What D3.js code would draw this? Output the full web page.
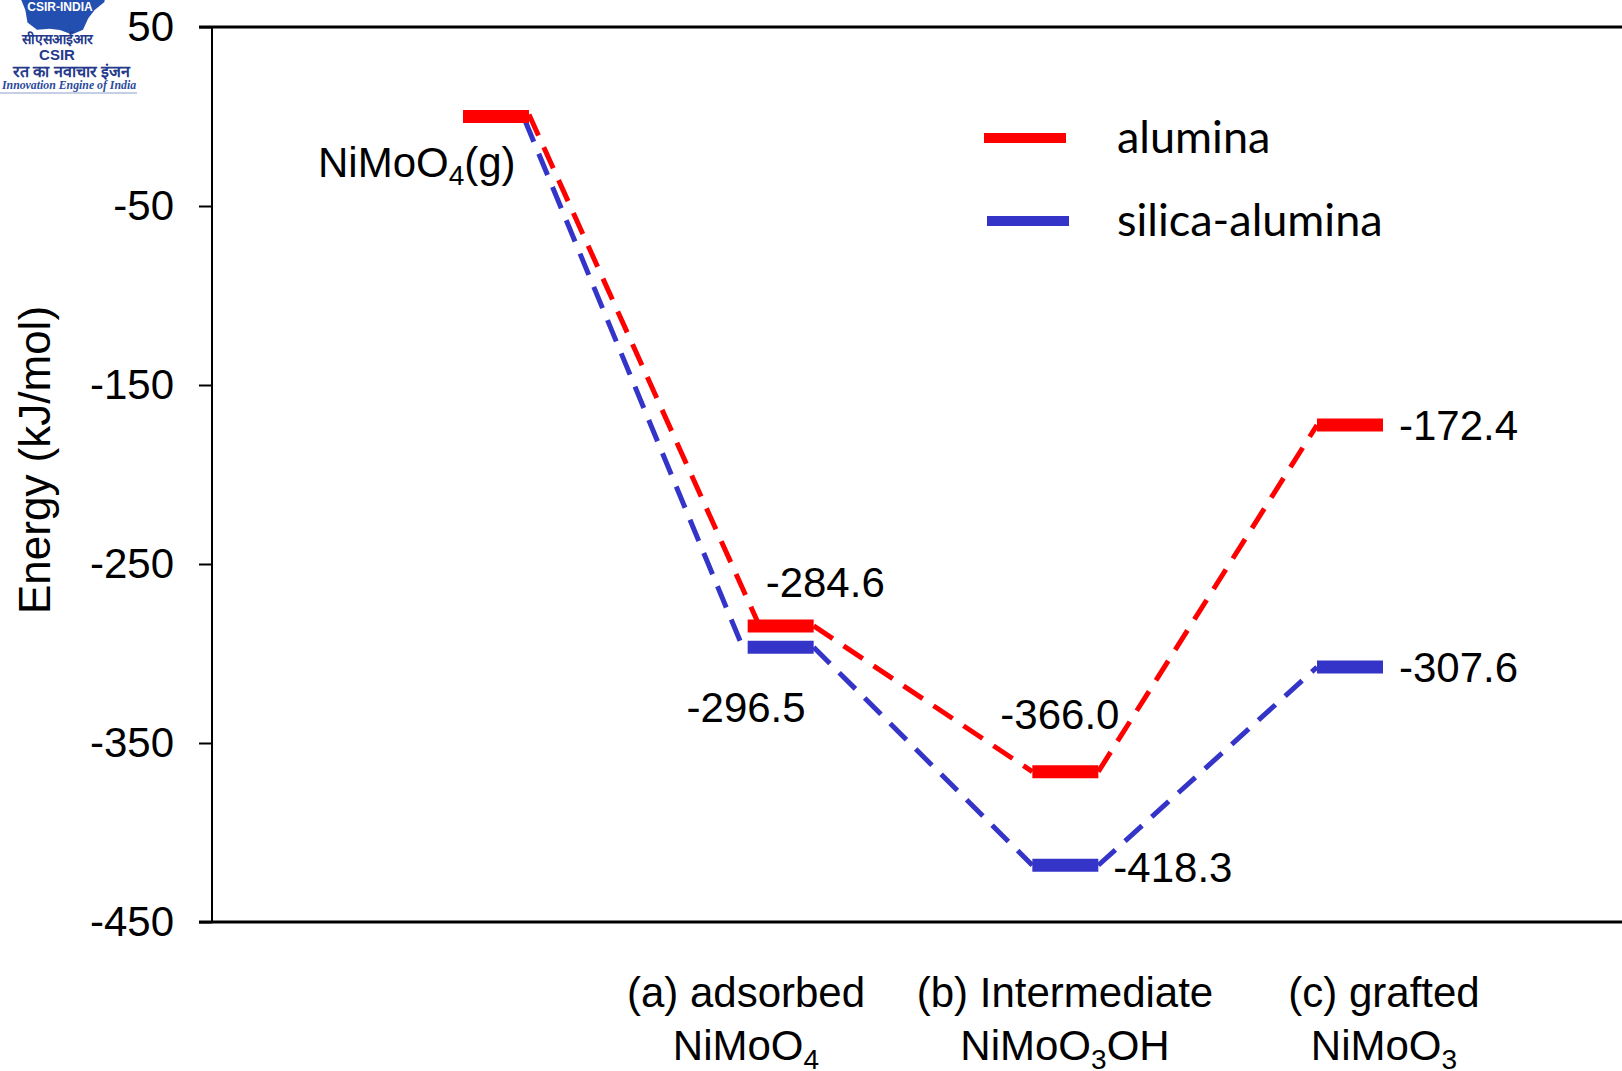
<!DOCTYPE html>
<html>
<head>
<meta charset="utf-8">
<script src="https://cdn.jsdelivr.net/npm/d3@7"></script>
<style>
  body { margin: 0; background: #fff; }
  svg { display: block; font-family: "Liberation Sans", Arial, sans-serif; }
</style>
</head>
<body>
<div class="svg-container"></div>
<script>
// steps along the reaction path
const steps = ["g", "a", "b", "c"];
const stepLabels = [
  null,
  ["(a) adsorbed", ["NiMoO", "4", ""]],
  ["(b) Intermediate", ["NiMoO", "3", "OH"]],
  ["(c) grafted", ["NiMoO", "3", ""]]
];
// energies (kJ/mol), null = no level drawn
const alumina = [0, -284.6, -366.0, -172.4];
const silicaAlumina = [null, -296.5, -418.3, -307.6];
const yTicks = [50, -50, -150, -250, -350, -450];
const seriesNames = ["alumina", "silica-alumina"];

const width = 1622, height = 1071;
const margin = {top: 27, bottom: 149, left: 212};
const red = "#ff0000", blue = "#3434c8";

const svg = d3.select(".svg-container").append("svg:svg")
  .attr("width", width)
  .attr("height", height);

const yScale = d3.scaleLinear().domain([-450, 50]).range([height - margin.bottom, margin.top]);
const xScale = d3.scalePoint().domain(steps).range([496, 1350]);
// category text sits on its own spacing
const labelScale = d3.scalePoint().domain(steps).range([427, 1384]);
const half = 33;

// plain hyphen minus, like the original
const fmtTick = d => String(d);
const fmt = v => v.toFixed(1);

// frame: left axis + top/bottom rules
const yAxis = d3.axisLeft(yScale).tickValues(yTicks).tickSize(13).tickPadding(25).tickFormat(fmtTick);
const gy = svg.append("g")
  .attr("transform", `translate(${margin.left},0)`)
  .call(yAxis);
gy.select(".domain").remove();
gy.selectAll(".tick line").attr("stroke", "#000").attr("stroke-width", 2);
gy.selectAll(".tick text")
  .attr("font-size", 42)
  .attr("font-family", "Liberation Sans, Arial, sans-serif")
  .attr("fill", "#000");

svg.append("line")
  .attr("x1", margin.left).attr("x2", margin.left)
  .attr("y1", yScale(50)).attr("y2", yScale(-450))
  .style("stroke", "#000").style("stroke-width", 2);
[50, -450].forEach(v => {
  svg.append("line")
    .attr("x1", margin.left - 13).attr("x2", width)
    .attr("y1", yScale(v)).attr("y2", yScale(v))
    .style("stroke", "#000").style("stroke-width", 3);
});

svg.append("text")      // y title
  .attr("transform", `translate(34,${460}) rotate(-90)`)
  .attr("text-anchor", "middle")
  .attr("dominant-baseline", "central")
  .attr("font-size", 44)
  .text("Energy (kJ/mol)");

// connectors: each series starts from the gas-phase level
// small nudges at the ends of the first drop, as in the original drawing
const nudge = {
  red: {0: {x1: 0, y1: -2, x2: 10, y2: -4}},
  blue: {0: {x1: -4, y1: 4, x2: -5, y2: 0}}
};
function connectors(vals, color, key) {
  const pts = vals.map((v, i) => ({i, v: v == null ? alumina[0] : v}));
  for (let i = 0; i < pts.length - 1; i++) {
    const a = pts[i], b = pts[i + 1];
    const n = nudge[key][i] || {x1: 0, y1: 0, x2: 0, y2: 0};
    svg.append("line")
      .attr("x1", xScale(steps[a.i]) + half + n.x1).attr("y1", yScale(a.v) + n.y1)
      .attr("x2", xScale(steps[b.i]) - half + n.x2).attr("y2", yScale(b.v) + n.y2)
      .style("stroke", color).style("stroke-width", 5)
      .style("stroke-dasharray", "23,13");
  }
}
connectors(alumina, red, "red");
connectors(silicaAlumina, blue, "blue");

function levels(vals, color) {
  vals.forEach((v, i) => {
    if (v == null) return;
    svg.append("line")
      .attr("x1", xScale(steps[i]) - half).attr("x2", xScale(steps[i]) + half)
      .attr("y1", yScale(v)).attr("y2", yScale(v))
      .style("stroke", color).style("stroke-width", 13);
  });
}
levels(alumina, red);
levels(silicaAlumina, blue);

// value labels, placement per level
const place = {
  "alumina-1": {dx: -15, dy: -29, anchor: "start"},
  "alumina-2": {dx: -65, dy: -43, anchor: "start"},
  "alumina-3": {dx: half + 16, dy: 15, anchor: "start"},
  "silica-1": {dx: 25, dy: 75, anchor: "end"},
  "silica-2": {dx: half + 15, dy: 17, anchor: "start"},
  "silica-3": {dx: half + 16, dy: 15, anchor: "start"}
};
function valueLabels(vals, key) {
  vals.forEach((v, i) => {
    const p = place[key + "-" + i];
    if (v == null || !p) return;
    svg.append("text")
      .attr("x", xScale(steps[i]) + p.dx)
      .attr("y", yScale(v) + p.dy)
      .attr("text-anchor", p.anchor)
      .attr("font-size", 42)
      .text(fmt(v));
  });
}
valueLabels(alumina, "alumina");
valueLabels(silicaAlumina, "silica");

// gas-phase label
const gl = svg.append("text")
  .attr("x", xScale("g") - 178).attr("y", yScale(alumina[0]) + 60)
  .attr("font-size", 42);
gl.append("tspan").text("NiMoO");
gl.append("tspan").attr("font-size", 28).attr("dy", 8).text("4");
gl.append("tspan").attr("dy", -8).text("(g)");

// category labels
stepLabels.forEach((lab, i) => {
  if (!lab) return;
  const cx = labelScale(steps[i]);
  svg.append("text")
    .attr("x", cx).attr("y", 1007)
    .attr("text-anchor", "middle").attr("font-size", 42)
    .text(lab[0]);
  const t = svg.append("text")
    .attr("x", cx).attr("y", 1060)
    .attr("text-anchor", "middle").attr("font-size", 42);
  t.append("tspan").text(lab[1][0]);
  t.append("tspan").attr("font-size", 28).attr("dy", 9).text(lab[1][1]);
  if (lab[1][2]) t.append("tspan").attr("dy", -9).text(lab[1][2]);
});

// legend
const legend = svg.append("g").attr("font-family", "Lato, sans-serif");
[[red, 984, 138], [blue, 987, 221]].forEach((d, i) => {
  legend.append("line")
    .attr("x1", d[1]).attr("x2", d[1] + 82)
    .attr("y1", d[2]).attr("y2", d[2])
    .style("stroke", d[0]).style("stroke-width", 10);
  legend.append("text")
    .attr("x", 1117).attr("y", d[2] - 2)
    .attr("dominant-baseline", "central")
    .attr("font-size", 45)
    .text(seriesNames[i]);
});

// CSIR watermark, cropped at the top-left corner
const logo = svg.append("g").attr("class", "logo");
const gearR = 40, gearC = [60, -10];
const gearPts = d3.range(0, 24).map(k => {
  const a = k / 24 * 2 * Math.PI;
  const r = (Math.floor(k / 2) % 2 === 0) ? gearR + 6 : gearR;
  return [gearC[0] + r * Math.cos(a), gearC[1] + r * Math.sin(a)];
});
logo.append("path").attr("d", d3.line().curve(d3.curveLinearClosed)(gearPts)).attr("fill", "#2350b0");
logo.append("text").attr("x", 60).attr("y", 11).attr("text-anchor", "middle")
  .attr("font-size", 12).attr("font-weight", "bold").attr("fill", "#fff").text("CSIR-INDIA");
logo.append("text").attr("x", 57).attr("y", 44).attr("text-anchor", "middle")
  .attr("font-size", 14).attr("font-weight", "bold").attr("fill", "#253a8c").text("सीएसआईआर");
logo.append("text").attr("x", 57).attr("y", 60).attr("text-anchor", "middle")
  .attr("font-size", 15).attr("font-weight", "bold").attr("fill", "#253a8c").text("CSIR");
logo.append("text").attr("x", 130).attr("y", 77).attr("text-anchor", "end")
  .attr("font-size", 16).attr("font-weight", "bold").attr("fill", "#253a8c").text("रत का नवाचार इंजन");
logo.append("text").attr("x", 2).attr("y", 89)
  .attr("font-size", 11.8).attr("font-style", "italic").attr("font-weight", "bold")
  .attr("font-family", "Liberation Serif, serif").attr("fill", "#2b4a9c")
  .text("Innovation Engine of India");
logo.append("line").attr("x1", 0).attr("x2", 137).attr("y1", 93).attr("y2", 93)
  .style("stroke", "#8aa0cc").style("stroke-width", 1);
</script>
</body>
</html>
